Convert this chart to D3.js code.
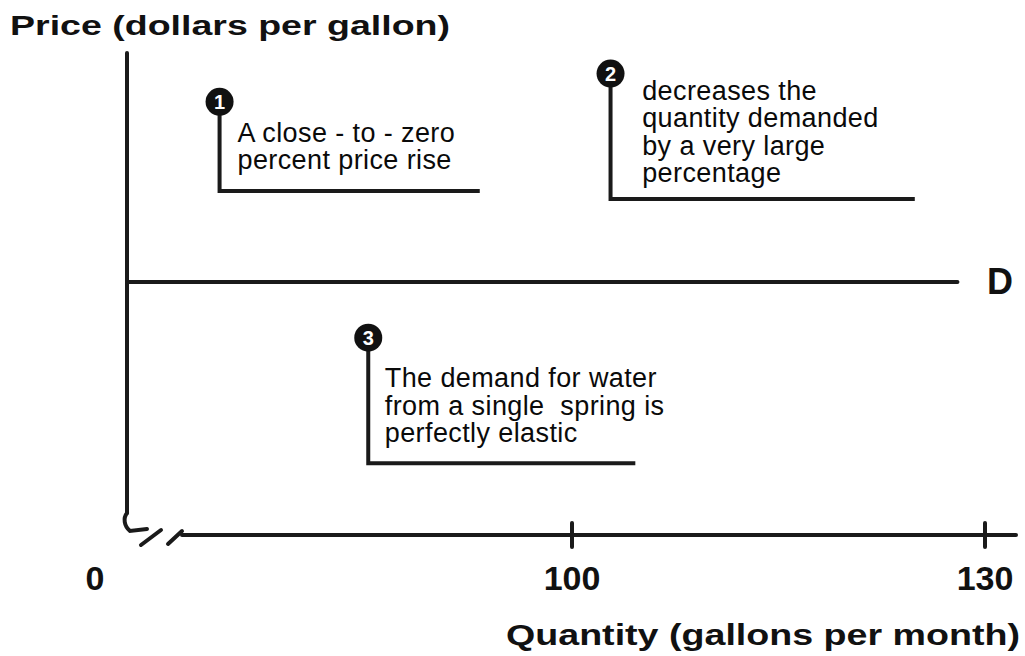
<!DOCTYPE html>
<meta charset="utf-8">
<style>
body { margin: 0; background: #fff; }
text { font-family: "Liberation Sans", Arial, sans-serif; fill: #111; }
.axis-line { stroke: #1a1a1a; stroke-width: 4; fill: none; stroke-linecap: round; }
.note-line { stroke: #1a1a1a; stroke-width: 4; fill: none; }
.tick-label { font-family: "Liberation Sans Narrow", "Liberation Sans", sans-serif; font-weight: bold; font-size: 34px; }
.note { font-size: 27px; letter-spacing: 0.4px; fill: #0a0a0a; }
</style>
<body>
<script src="https://d3js.org/d3.v7.min.js"></script>
<script>

var width = 1025,
    height = 656;

// data
var xTicks = [100, 130];
var originLabel = "0";
var demandPrice = 5;          // perfectly elastic: one price at every quantity
var demandQuantity = [74, 128];
var demandLabel = "D";
var yLabel = "Price (dollars per gallon)";
var xLabel = "Quantity (gallons per month)";

// callouts: number, anchor (quantity, price), elbow price, end quantity, text lines
var noteNumbers = ["1", "2", "3"];
var noteQuantity = [74.4, 102.8, 85.2];
var notePrice = [8.56, 9.12, 3.9];
var noteElbowPrice = [6.8, 6.64, 1.42];
var noteEndQuantity = [93.3, 124.9, 104.6];
var noteTextQuantity = [75.7, 105.1, 86.4];
var noteTextPrice = [7.77, 8.6, 2.92];
var noteLines = [
    ["A close - to - zero", "percent price rise"],
    ["decreases the", "quantity demanded", "by a very large", "percentage"],
    ["The demand for water", "from a single  spring is", "perfectly elastic"]
];

var svg = d3.select("body").append("svg")
    .attr("width", width)
    .attr("height", height);

// axis is broken between 0 and 100, so the scale only covers the right part
var x = d3.scaleLinear()
    .domain([100, 130])
    .range([572, 985]);

var y = d3.scaleLinear()
    .domain([0, 10])
    .range([535, 29]);

var x0 = 127,
    y0 = y(0);

// y axis
svg.append("line")
    .attr("class", "axis-line")
    .attr("x1", x0).attr("x2", x0)
    .attr("y1", 53).attr("y2", 513);

// break symbol at the origin
svg.append("path")
    .attr("class", "axis-line")
    .attr("stroke-width", 3.5)
    .attr("d", "M" + x0 + ",513 C" + (x0 - 4) + ",518 " + (x0 - 3) + ",526 " + (x0 + 3) + ",531 L" + (x0 + 20) + ",529");
svg.append("path")
    .attr("class", "axis-line")
    .attr("stroke-width", 3.5)
    .attr("d", "M" + (x0 + 14) + ",545 L" + (x0 + 34) + ",530");
svg.append("path")
    .attr("class", "axis-line")
    .attr("stroke-width", 3.5)
    .attr("d", "M" + (x0 + 41) + ",544 L" + (x0 + 55) + ",531");

// x axis
svg.append("line")
    .attr("class", "axis-line")
    .attr("x1", x0 + 55).attr("x2", 1016)
    .attr("y1", y0).attr("y2", y0);

svg.selectAll(".tick-mark")
    .data(xTicks)
  .enter().append("line")
    .attr("class", "axis-line tick-mark")
    .attr("stroke-width", 3)
    .attr("x1", d => x(d)).attr("x2", d => x(d))
    .attr("y1", y0 - 12).attr("y2", y0 + 12);

svg.selectAll(".tick-label")
    .data(xTicks)
  .enter().append("text")
    .attr("class", "tick-label")
    .attr("text-anchor", "middle")
    .attr("x", d => x(d))
    .attr("y", 590)
    .text(d => d);

svg.append("text")
    .attr("class", "tick-label")
    .attr("text-anchor", "middle")
    .attr("x", 95)
    .attr("y", 590)
    .text(originLabel);

// demand curve
svg.append("line")
    .attr("class", "axis-line")
    .attr("x1", x0).attr("x2", x(demandQuantity[1]))
    .attr("y1", y(demandPrice)).attr("y2", y(demandPrice));

svg.append("text")
    .attr("x", 987)
    .attr("y", y(demandPrice) + 12)
    .attr("font-weight", "bold")
    .attr("font-size", 36)
    .text(demandLabel);

// axis titles
svg.append("text")
    .attr("x", 10)
    .attr("y", 35)
    .attr("font-family", "DejaVu Sans")
    .attr("font-weight", "bold")
    .attr("font-size", 28)
    .attr("textLength", 440)
    .attr("lengthAdjust", "spacingAndGlyphs")
    .text(yLabel);

svg.append("text")
    .attr("x", 506)
    .attr("y", 645)
    .attr("font-family", "DejaVu Sans")
    .attr("font-weight", "bold")
    .attr("font-size", 29)
    .attr("textLength", 514)
    .attr("lengthAdjust", "spacingAndGlyphs")
    .text(xLabel);

// callouts
var notes = noteNumbers.map((n, i) => ({
    n: n,
    q: noteQuantity[i],
    p: notePrice[i],
    pe: noteElbowPrice[i],
    qe: noteEndQuantity[i],
    tq: noteTextQuantity[i],
    tp: noteTextPrice[i],
    lines: noteLines[i]
}));

var g = svg.selectAll(".callout")
    .data(notes)
  .enter().append("g")
    .attr("class", "callout");

g.append("path")
    .attr("class", "note-line")
    .attr("d", d => "M" + x(d.q) + "," + y(d.p) + " V" + y(d.pe) + " H" + x(d.qe));

g.append("circle")
    .attr("cx", d => x(d.q))
    .attr("cy", d => y(d.p))
    .attr("r", 14)
    .attr("fill", "#111");

g.append("text")
    .attr("x", d => x(d.q))
    .attr("y", d => y(d.p) + 7)
    .attr("text-anchor", "middle")
    .attr("font-weight", "bold")
    .attr("font-size", 20)
    .style("fill", "#fff")
    .text(d => d.n);

g.append("text")
    .attr("class", "note")
    .attr("x", d => x(d.tq))
    .attr("y", d => y(d.tp))
    .selectAll("tspan")
    .data(d => d.lines.map(l => ({ l: l, x: x(d.tq) })))
  .enter().append("tspan")
    .attr("x", t => t.x)
    .attr("dy", (t, i) => i == 0 ? 0 : 27.5)
    .attr("xml:space", "preserve")
    .text(t => t.l);

</script>
